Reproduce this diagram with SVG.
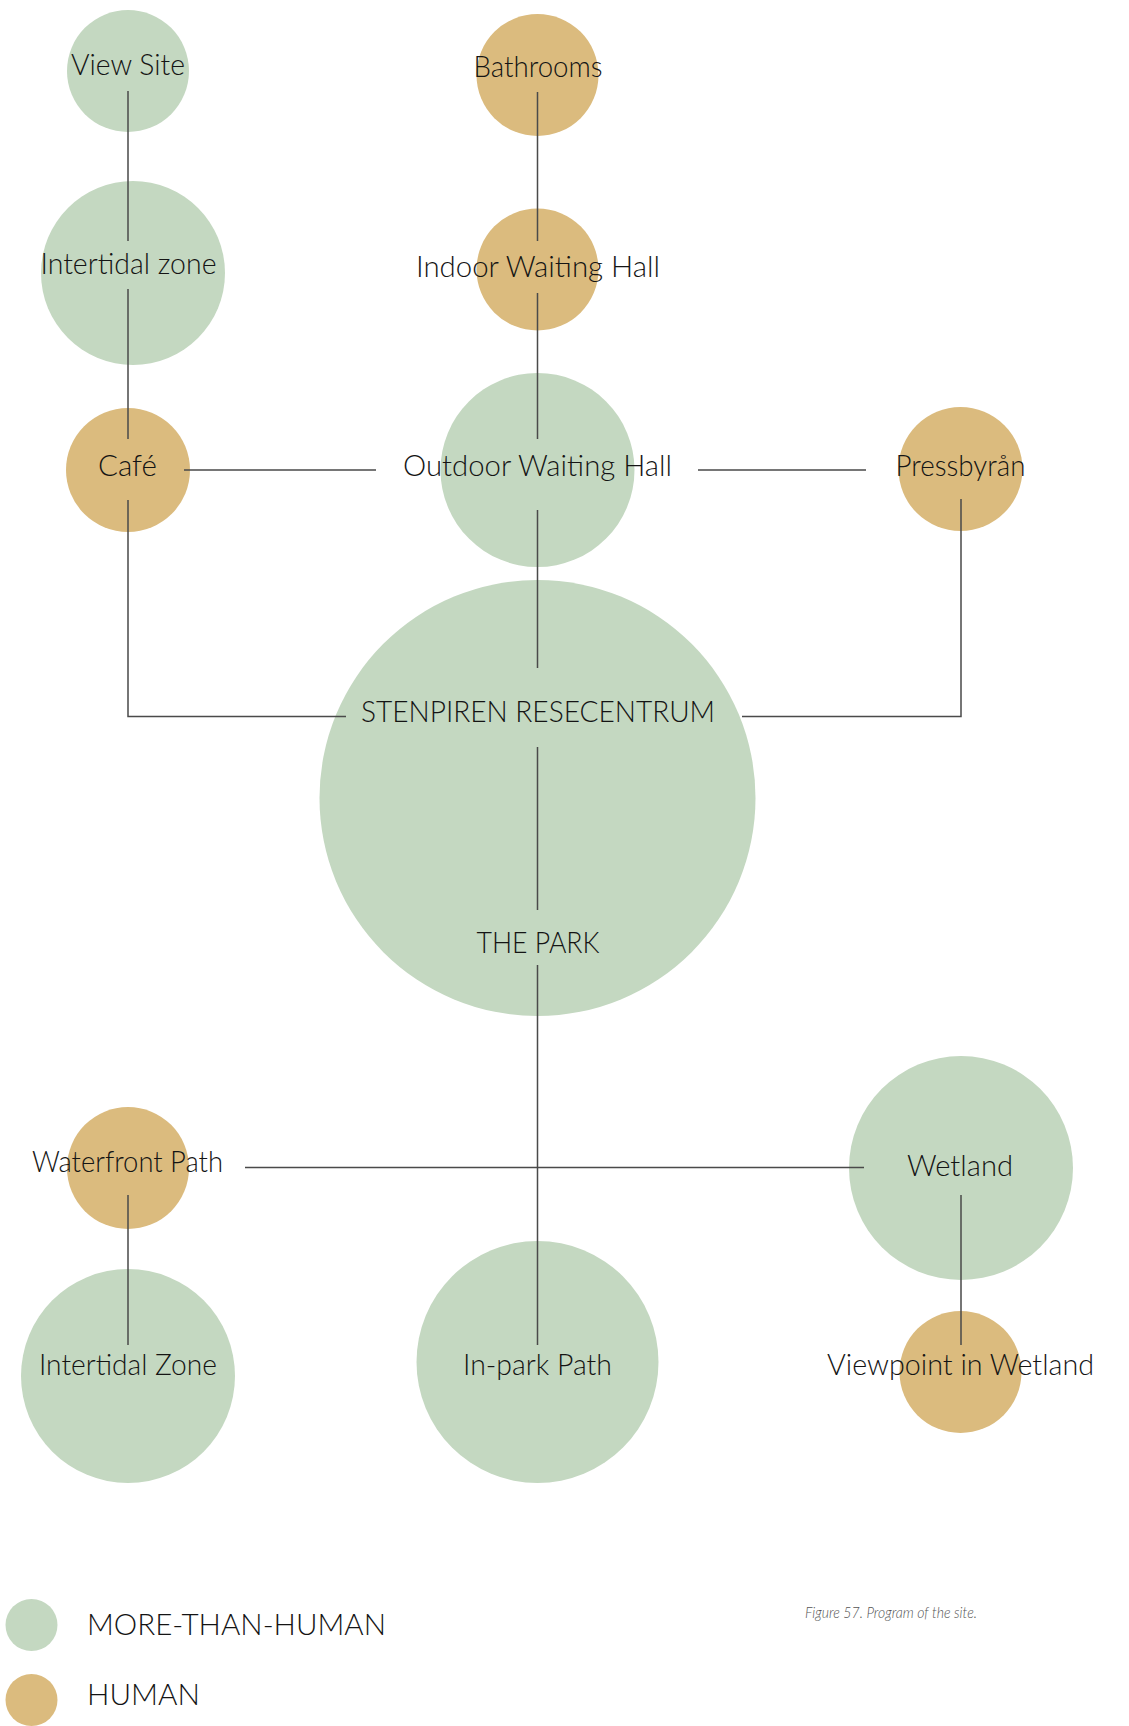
<svg xmlns="http://www.w3.org/2000/svg" width="1129" height="1726" viewBox="0 0 1129 1726">
  <style>
    .mth { fill: #c4d8c1; }
    .hum { fill: #dbbb7e; }
    .lbl { font-family: Lato, "Liberation Sans", sans-serif; font-size: 29px; font-weight: 300; fill: #141414; text-anchor: middle; }
    .leg { font-family: Lato, "Liberation Sans", sans-serif; font-size: 29px; font-weight: 300; fill: #141414; }
    .cap { font-family: Lato, "Liberation Sans", sans-serif; font-size: 15px; font-weight: 300; font-style: italic; fill: #555; }
    .wire { fill: none; stroke: #4a4a4a; stroke-width: 1.5; }
  </style>
  <rect width="1129" height="1726" fill="#ffffff"/>

  <!-- node discs -->
  <g id="node-view-site"><circle class="mth" cx="128" cy="71" r="61"/></g>
  <g id="node-intertidal-zone-top"><circle class="mth" cx="133" cy="273" r="92"/></g>
  <g id="node-cafe"><circle class="hum" cx="128" cy="470" r="62"/></g>
  <g id="node-bathrooms"><circle class="hum" cx="537.5" cy="75" r="61"/></g>
  <g id="node-indoor-waiting-hall"><circle class="hum" cx="537.5" cy="269.5" r="61"/></g>
  <g id="node-outdoor-waiting-hall"><circle class="mth" cx="537.5" cy="470" r="97"/></g>
  <g id="node-pressbyran"><circle class="hum" cx="960.5" cy="469" r="62"/></g>
  <g id="node-stenpiren"><circle class="mth" cx="537.5" cy="798" r="218"/></g>
  <g id="node-waterfront-path"><circle class="hum" cx="128" cy="1168" r="61"/></g>
  <g id="node-wetland"><circle class="mth" cx="961" cy="1168" r="112"/></g>
  <g id="node-intertidal-zone-bottom"><circle class="mth" cx="128" cy="1376" r="107"/></g>
  <g id="node-in-park-path"><circle class="mth" cx="537.5" cy="1362" r="121"/></g>
  <g id="node-viewpoint-wetland"><circle class="hum" cx="960.5" cy="1372" r="61"/></g>

  <!-- connectors -->
  <g id="connectors" class="wire">
    <path d="M128 91V241M128 289V439M128 500V716.5H346"/>
    <path d="M537.5 92V241M537.5 293V439M537.5 510V668M537.5 747V910M537.5 965V1345"/>
    <path d="M184 470H376M698 470H866"/>
    <path d="M742 716.5H961V499"/>
    <path d="M245 1167.5H864"/>
    <path d="M128 1195V1345M961 1195V1345"/>
  </g>

  <!-- node labels -->
  <g id="labels">
    <text class="lbl" x="128" y="75" textLength="114" lengthAdjust="spacingAndGlyphs">View Site</text>
    <text class="lbl" x="128.5" y="274" textLength="176" lengthAdjust="spacingAndGlyphs">Intertidal zone</text>
    <text class="lbl" x="127.5" y="476" textLength="59" lengthAdjust="spacingAndGlyphs">Café</text>
    <text class="lbl" x="538" y="77" textLength="129" lengthAdjust="spacingAndGlyphs">Bathrooms</text>
    <text class="lbl" x="538" y="277" textLength="244" lengthAdjust="spacingAndGlyphs">Indoor Waiting Hall</text>
    <text class="lbl" x="537.5" y="476" textLength="269" lengthAdjust="spacingAndGlyphs">Outdoor Waiting Hall</text>
    <text class="lbl" x="960.5" y="476" textLength="130" lengthAdjust="spacingAndGlyphs">Pressbyrån</text>
    <text class="lbl" x="538" y="722" textLength="354" lengthAdjust="spacingAndGlyphs">STENPIREN RESECENTRUM</text>
    <text class="lbl" x="538" y="953" textLength="123" lengthAdjust="spacingAndGlyphs">THE PARK</text>
    <text class="lbl" x="127.5" y="1172" textLength="191" lengthAdjust="spacingAndGlyphs">Waterfront Path</text>
    <text class="lbl" x="960" y="1176" textLength="106" lengthAdjust="spacingAndGlyphs">Wetland</text>
    <text class="lbl" x="128" y="1375" textLength="178" lengthAdjust="spacingAndGlyphs">Intertidal Zone</text>
    <text class="lbl" x="537.5" y="1375" textLength="149" lengthAdjust="spacingAndGlyphs">In-park Path</text>
    <text class="lbl" x="960.5" y="1375" textLength="267" lengthAdjust="spacingAndGlyphs">Viewpoint in Wetland</text>
  </g>

  <!-- legend -->
  <g id="legend">
    <circle class="mth" cx="31.5" cy="1625" r="26"/>
    <circle class="hum" cx="31.5" cy="1700" r="26"/>
    <text class="leg" x="87" y="1635" textLength="299" lengthAdjust="spacingAndGlyphs">MORE-THAN-HUMAN</text>
    <text class="leg" x="87" y="1705" textLength="113" lengthAdjust="spacingAndGlyphs">HUMAN</text>
  </g>

  <text class="cap" x="805" y="1618" textLength="172" lengthAdjust="spacingAndGlyphs">Figure 57. Program of the site.</text>
</svg>
